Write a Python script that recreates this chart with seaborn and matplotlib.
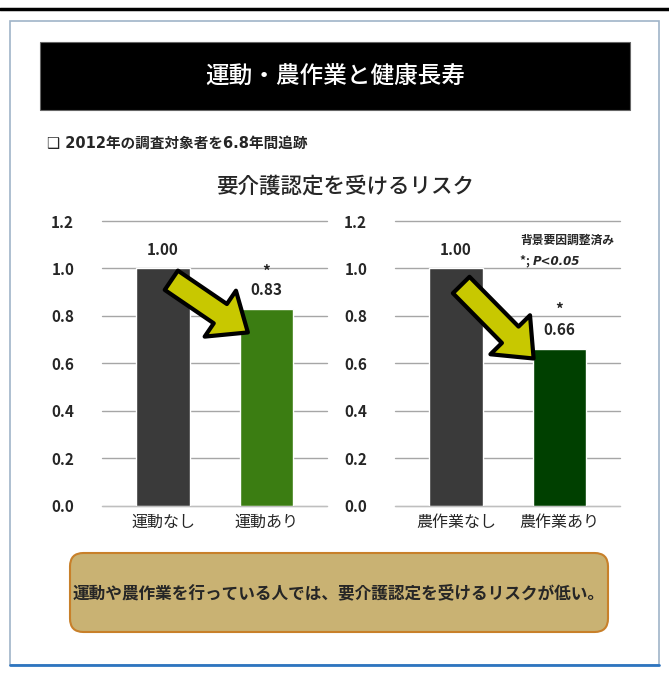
import matplotlib
matplotlib.use('Agg')
import matplotlib.pyplot as plt
import matplotlib.patches as mpatches
import seaborn as sns

# data
cats_exercise = ['運動なし', '運動あり']
risk_exercise = [1.00, 0.83]
cats_farm = ['農作業なし', '農作業あり']
risk_farm = [1.00, 0.66]
yticks = [0.0, 0.2, 0.4, 0.6, 0.8, 1.0, 1.2]

title = '運動・農作業と健康長寿'
subtitle = '❑ 2012年の調査対象者を6.8年間追跡'
chart_title = '要介護認定を受けるリスク'
note1 = '背景要因調整済み'
conclusion = '運動や農作業を行っている人では、要介護認定を受けるリスクが低い。'

sns.set_style('white')
plt.rcParams['font.family'] = ['Noto Sans CJK JP', 'DejaVu Sans']

W, H = 669, 675
fig = plt.figure(figsize=(W / 100, H / 100), dpi=100)


def fx(px):
    return px / W


def fy(py):
    return 1 - py / H


# frame + top rule
fig.add_artist(plt.Line2D([0, 1], [fy(9), fy(9)], color='black', lw=2.5))
fig.add_artist(mpatches.Rectangle((fx(10), fy(665)), fx(649), (665 - 21) / H,
                                  fill=False, ec='#9fb4c8', lw=1.2))
fig.add_artist(plt.Line2D([fx(10), fx(659)], [fy(665), fy(665)], color='#2e75c0', lw=2))

# banner
fig.add_artist(mpatches.Rectangle((fx(40), fy(110)), fx(590), 68 / H,
                                  fc='black', ec='#666666', lw=0.8))
fig.text(fx(335), fy(76), title, color='white', fontsize=17, fontweight='medium',
         ha='center', va='center')
fig.text(fx(47), fy(143), subtitle, fontsize=10.5, fontweight='bold', ha='left', va='center',
         family=['DejaVu Sans', 'Noto Sans CJK JP'])
fig.text(fx(345), fy(187), chart_title, fontsize=15.5, fontweight='medium', ha='center', va='center')


def draw(ax, cats, vals, colors, star_pad):
    sns.barplot(x=cats, y=vals, hue=cats, palette=colors, legend=False, width=0.52,
                saturation=1, ax=ax)
    ax.set_xlim(-0.59, 1.585)
    ax.set_ylim(0, 1.2)
    ax.set_yticks(yticks)
    ax.set_yticklabels([f'{t:.1f}' for t in yticks], fontweight='bold', fontsize=11)
    ax.tick_params(axis='y', length=0, pad=20)
    ax.tick_params(axis='x', length=0, pad=6, labelsize=11.5)
    for t in yticks:
        ax.axhline(t, color='#a6a6a6', lw=1, zorder=0, clip_on=False)
    for s in ['top', 'right', 'left']:
        ax.spines[s].set_visible(False)
    ax.spines['bottom'].set_color('#bfbfbf')
    ax.set_axisbelow(True)
    for i, v in enumerate(vals):
        ax.text(i, v + 0.045, f'{v:.2f}', ha='center', va='bottom', fontsize=11, fontweight='bold')
    ax.text(1, vals[1] + star_pad, '*', ha='center', va='bottom', fontsize=11, fontweight='bold')


ax1 = fig.add_axes([fx(102), fy(505.5), fx(225), 284.5 / H])
draw(ax1, cats_exercise, risk_exercise, ['#3a3a3a', '#3b7d12'], 0.12)
ax2 = fig.add_axes([fx(395), fy(505.5), fx(225), 284.5 / H])
draw(ax2, cats_farm, risk_farm, ['#3a3a3a', '#004000'], 0.13)

ax2.text(0.62, 1.12, note1, fontsize=8.5, fontweight='bold', ha='left', va='center')
ax2.text(0.62, 1.03, '*; ', fontsize=8.5, fontweight='bold', ha='left', va='center')
ax2.text(0.74, 1.03, 'P<0.05', fontsize=8.5, fontweight='bold', style='italic', ha='left', va='center',
         family='DejaVu Sans')

# yellow arrows
style = mpatches.ArrowStyle('Simple', head_length=0.6, head_width=1.0, tail_width=0.42)
for ax, a, b in [(ax1, (0.08, 0.95), (0.82, 0.73)), (ax2, (0.05, 0.93), (0.75, 0.62))]:
    arr = mpatches.FancyArrowPatch(a, b, arrowstyle=style, mutation_scale=40,
                                   fc='#c8c800', ec='black', lw=3, shrinkA=0, shrinkB=0, zorder=5)
    ax.add_patch(arr)

# conclusion box
box = mpatches.FancyBboxPatch((fx(70), fy(632)), fx(538), 79 / H,
                              boxstyle='round,pad=0,rounding_size=0.02',
                              fc='#c9b273', ec='#c8802a', lw=1.5, transform=fig.transFigure)
fig.add_artist(box)
fig.text(fx(339), fy(593), conclusion, fontsize=12, fontweight='bold', ha='center', va='center')

fig.savefig('out.png', dpi=100)
